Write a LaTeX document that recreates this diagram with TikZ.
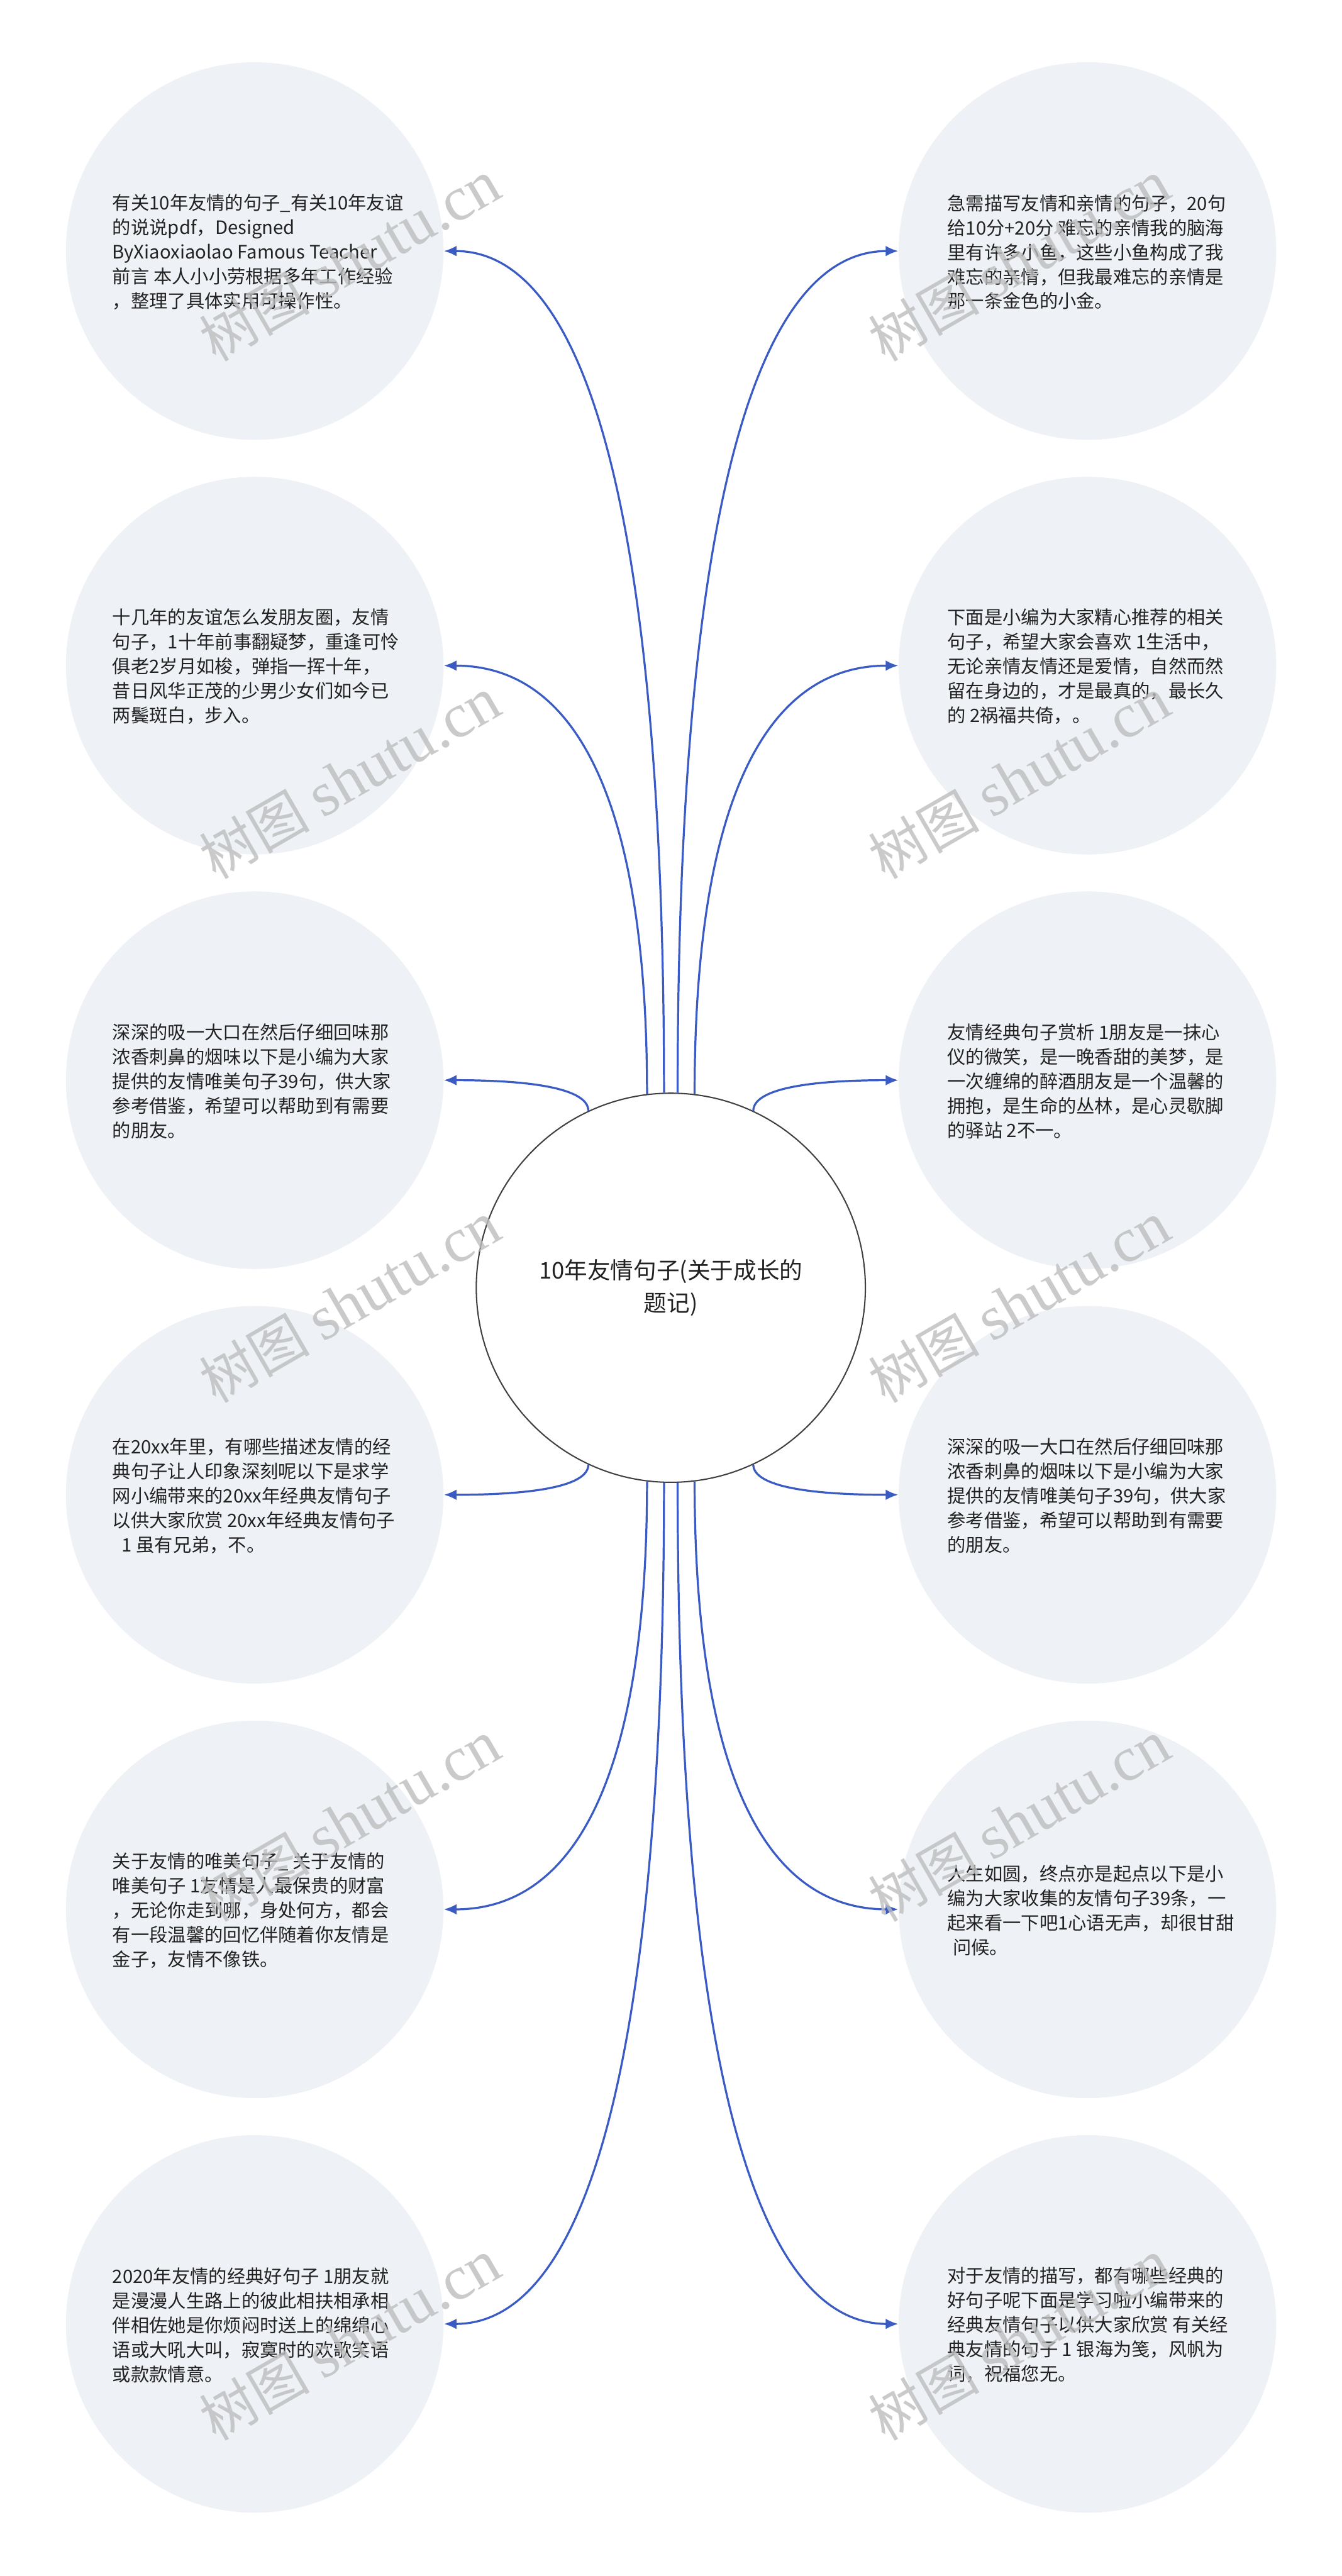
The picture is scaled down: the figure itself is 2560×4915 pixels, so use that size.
\documentclass[tikz,border=0pt]{standalone}
\usepackage{fontspec}
\setmainfont{Noto Sans CJK SC}
\newfontfamily\wmserif{Liberation Serif}
\newfontfamily\wmcjk{Noto Sans CJK SC}
\usetikzlibrary{arrows.meta,calc}
\definecolor{bubble}{HTML}{EEF1F5}
\definecolor{linkblue}{HTML}{3A5BC4}
\definecolor{txt}{HTML}{222222}
\definecolor{wmgray}{HTML}{BDBDBD}
\newcommand\branchlink[3]{%
  \coordinate (bS) at (c.#1);
  \coordinate (bK) at (bS |- #2.#3);
  \draw[linkline] (bS) .. controls ($(bS)!0.667!(bK)$) and ($(#2.#3)!0.667!(bK)$) .. (#2.#3);
}
\begin{document}
\begin{tikzpicture}[x=0.01cm,y=-0.01cm,
  bubblenode/.style={circle, fill=bubble, draw=none, minimum size=7.2cm, inner sep=0pt},
  sidetext/.style={anchor=west, align=left, inner sep=0pt, text=txt, font=\fontsize{10pt}{13.3pt}\selectfont},
  centernode/.style={circle, draw=black!75, line width=0.7pt, fill=white, minimum size=7.42cm, inner sep=0pt, align=center, text=txt, font=\fontsize{12.5pt}{17.9pt}\selectfont},
  linkline/.style={draw=linkblue, line width=1.1pt, -{Latex[length=0.24cm,width=0.2cm]}},
  wmark/.style={text=wmgray, opacity=0.8, rotate=30, inner sep=0pt}
]
\useasboundingbox (0,0) rectangle (2560,4915);
\fill[white] (0,0) rectangle (2560,4915);

% side bubbles
\node[bubblenode] (l1) at (486,479) {};
\node[bubblenode] (l2) at (486,1270) {};
\node[bubblenode] (l3) at (486,2061) {};
\node[bubblenode] (l4) at (486,2852) {};
\node[bubblenode] (l5) at (486,3643) {};
\node[bubblenode] (l6) at (486,4434) {};
\node[bubblenode] (r1) at (2075,479) {};
\node[bubblenode] (r2) at (2075,1270) {};
\node[bubblenode] (r3) at (2075,2061) {};
\node[bubblenode] (r4) at (2075,2852) {};
\node[bubblenode] (r5) at (2075,3643) {};
\node[bubblenode] (r6) at (2075,4434) {};

% texts
\node[sidetext] (tl1) at (214,481) {有关10年友情的句子\_有关10年友谊\\的说说pdf，Designed\\ByXiaoxiaolao Famous Teacher\\前言 本人小小劳根据多年工作经验\\，整理了具体实用可操作性。};
\node[sidetext] (tr1) at (1807,481) {急需描写友情和亲情的句子，20句\\给10分+20分 难忘的亲情我的脑海\\里有许多小鱼，这些小鱼构成了我\\难忘的亲情，但我最难忘的亲情是\\那一条金色的小金。};
\node[sidetext] (tl2) at (214,1272) {十几年的友谊怎么发朋友圈，友情\\句子，1十年前事翻疑梦，重逢可怜\\俱老2岁月如梭，弹指一挥十年，\\昔日风华正茂的少男少女们如今已\\两鬓斑白，步入。};
\node[sidetext] (tr2) at (1807,1272) {下面是小编为大家精心推荐的相关\\句子，希望大家会喜欢 1生活中，\\无论亲情友情还是爱情，自然而然\\留在身边的，才是最真的，最长久\\的 2祸福共倚，。};
\node[sidetext] (tl3) at (214,2063) {深深的吸一大口在然后仔细回味那\\浓香刺鼻的烟味以下是小编为大家\\提供的友情唯美句子39句，供大家\\参考借鉴，希望可以帮助到有需要\\的朋友。};
\node[sidetext] (tr3) at (1807,2063) {友情经典句子赏析 1朋友是一抹心\\仪的微笑，是一晚香甜的美梦，是\\一次缠绵的醉酒朋友是一个温馨的\\拥抱，是生命的丛林，是心灵歇脚\\的驿站 2不一。};
\node[sidetext] (tl4) at (214,2854) {在20xx年里，有哪些描述友情的经\\典句子让人印象深刻呢以下是求学\\网小编带来的20xx年经典友情句子\\以供大家欣赏 20xx年经典友情句子\\\hspace*{0.5em}1 虽有兄弟，不。};
\node[sidetext] (tr4) at (1807,2854) {深深的吸一大口在然后仔细回味那\\浓香刺鼻的烟味以下是小编为大家\\提供的友情唯美句子39句，供大家\\参考借鉴，希望可以帮助到有需要\\的朋友。};
\node[sidetext] (tl5) at (214,3645) {关于友情的唯美句子\_ 关于友情的\\唯美句子 1友情是人最保贵的财富\\，无论你走到哪，身处何方，都会\\有一段温馨的回忆伴随着你友情是\\金子，友情不像铁。};
\node[sidetext] (tr5) at (1807,3645) {人生如圆，终点亦是起点以下是小\\编为大家收集的友情句子39条，一\\起来看一下吧1心语无声，却很甘甜\\\hspace*{0.3em}问候。};
\node[sidetext] (tl6) at (214,4436) {2020年友情的经典好句子 1朋友就\\是漫漫人生路上的彼此相扶相承相\\伴相佐她是你烦闷时送上的绵绵心\\语或大吼大叫，寂寞时的欢歌笑语\\或款款情意。};
\node[sidetext] (tr6) at (1807,4436) {对于友情的描写，都有哪些经典的\\好句子呢下面是学习啦小编带来的\\经典友情句子以供大家欣赏 有关经\\典友情的句子 1 银海为笺，风帆为\\词，祝福您无。};

% center
\node[centernode] (c) at (1280,2457) {10年友情句子(关于成长的\\题记)};

% links
\branchlink{92}{l1}{east}
\branchlink{97}{l2}{east}
\branchlink{115}{l3}{east}
\branchlink{245}{l4}{east}
\branchlink{263}{l5}{east}
\branchlink{268}{l6}{east}
\branchlink{88}{r1}{west}
\branchlink{83}{r2}{west}
\branchlink{65}{r3}{west}
\branchlink{295}{r4}{west}
\branchlink{277}{r5}{west}
\branchlink{272}{r6}{west}

% watermarks
\foreach \wy [count=\i] in {498,1485,2485,3475,4465} {
  \node[wmark] (wl\i) at (668,\wy) {\wmcjk\fontsize{30pt}{30pt}\selectfont 树图 \wmserif\fontsize{34pt}{34pt}\selectfont shutu.cn};
  \node[wmark] (wr\i) at (1945,\wy) {\wmcjk\fontsize{30pt}{30pt}\selectfont 树图 \wmserif\fontsize{34pt}{34pt}\selectfont shutu.cn};
}
\end{tikzpicture}
\end{document}
